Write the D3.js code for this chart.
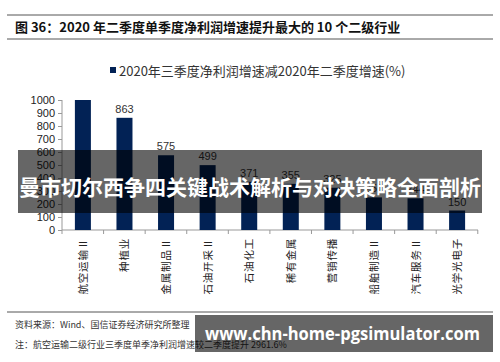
<!DOCTYPE html>
<html><head><meta charset="utf-8">
<script src="https://cdn.jsdelivr.net/npm/d3@7"></script>
<style>
html,body{margin:0;padding:0;background:#fff;}
svg{display:block;}
</style></head>
<body>
<svg id="c" width="500" height="362"></svg>
<script>
const categories = ["航空运输Ⅱ","种植业","金属制品Ⅱ","石油开采Ⅱ","石油化工","稀有金属","营销传播","船舶制造Ⅱ","汽车服务Ⅱ","光学光电子"];
const values = [2961.6, 863, 575, 499, 371, 355, 325, 251, 244, 150];
const yTicks = [0,100,200,300,400,500,600,700,800,900,1000];
const seriesName = "2020年三季度净利润增速减2020年二季度增速(%)";
const title = "图 36：2020 年二季度单季度净利润增速提升最大的 10 个二级行业";
const source = "资料来源：Wind、国信证券经济研究所整理";
const note = "注：航空运输二级行业三季度单季净利润增速较二季度提升 2961.6%";
const banner1 = "曼市切尔西争四关键战术解析与对决策略全面剖析";
const banner2 = "www.chn-home-pgsimulator.com";

const svg = d3.select("#c");
const cjk = "'Noto Sans CJK SC', 'Liberation Sans', sans-serif";
const num = "'Liberation Sans', Arial, sans-serif";
const barColor = "#022255";
const yMax = 1000;

// title block
svg.append("line").attr("x1",7).attr("x2",493).attr("y1",15).attr("y2",15).attr("stroke","#555").attr("stroke-width",1);
svg.append("line").attr("x1",7).attr("x2",493).attr("y1",39).attr("y2",39).attr("stroke","#555").attr("stroke-width",1);
svg.append("text").attr("x",15).attr("y",32).attr("font-family",cjk).attr("font-weight","bold")
  .attr("font-size",13).attr("fill","#111").text(title);

// legend
const lg = svg.append("g");
lg.append("rect").attr("x",110).attr("y",67).attr("width",6).attr("height",6).attr("fill",barColor);
lg.append("text").attr("x",119).attr("y",76).attr("font-family",cjk).attr("font-size",13).attr("fill","#333").text(seriesName);

// scales
const x = d3.scaleBand().domain(categories).range([62,478]).paddingInner(0.615).paddingOuter(0.31);
const y = d3.scaleLinear().domain([0,yMax]).range([230,100]).clamp(true);

// y axis
const ya = svg.append("g").attr("transform","translate(62,0)")
  .call(d3.axisLeft(y).tickValues(yTicks).tickFormat(d3.format("d")).tickSize(4).tickPadding(3));
ya.select(".domain").attr("stroke","#999").attr("d","M0,100V230");
ya.selectAll(".tick line").attr("stroke","#999");
ya.selectAll(".tick text").attr("font-family",num).attr("font-size",11).attr("fill","#222");

// x axis
const xa = svg.append("g").attr("transform","translate(0,230)");
xa.append("line").attr("x1",62).attr("x2",478).attr("stroke","#999");
const bw = x.step();
d3.range(categories.length+1).forEach(i=>{
  const xx = 62 + i*bw;
  xa.append("line").attr("x1",xx).attr("x2",xx).attr("y1",0).attr("y2",4).attr("stroke","#999");
});
xa.selectAll("text.cat").data(categories).enter().append("text").attr("class","cat")
  .attr("transform",d=>`translate(${x(d)+x.bandwidth()/2+4},8) rotate(-90)`)
  .attr("text-anchor","end").attr("font-family",cjk).attr("font-size",10.5).attr("fill","#222")
  .attr("letter-spacing",0.8).text(d=>d);

const rows = categories.map((c,i)=>({c, v: values[i]}));

// bars
svg.selectAll("rect.bar").data(rows).enter().append("rect").attr("class","bar")
  .attr("x",d=>x(d.c)).attr("width",x.bandwidth())
  .attr("y",d=>y(d.v)).attr("height",d=>y(0)-y(d.v)).attr("fill",barColor);

// value labels (bars over the axis max carry no label)
svg.selectAll("text.val").data(rows.filter(d=>d.v<=yMax)).enter().append("text").attr("class","val")
  .attr("x",d=>x(d.c)+x.bandwidth()/2).attr("y",d=>y(d.v)-5)
  .attr("text-anchor","middle").attr("font-family",num).attr("font-size",11).attr("fill","#333")
  .text(d=>d.v);

// footer
svg.append("line").attr("x1",7).attr("x2",493).attr("y1",312).attr("y2",312).attr("stroke","#555");
svg.append("text").attr("x",15).attr("y",328).attr("font-family",cjk).attr("font-size",9).attr("fill","#333").text(source);
svg.append("text").attr("x",15).attr("y",348).attr("font-family",cjk).attr("font-size",9).attr("fill","#333").text(note);

// overlay banners
svg.append("rect").attr("x",18).attr("y",150).attr("width",464).attr("height",63).attr("fill","rgba(0,0,0,0.6)");
svg.append("text").attr("x",250).attr("y",195).attr("text-anchor","middle").attr("font-family",cjk)
  .attr("font-weight","bold").attr("font-size",21).attr("fill","#fff").text(banner1);
svg.append("rect").attr("x",195).attr("y",315).attr("width",298).attr("height",37).attr("fill","rgba(0,0,0,0.6)");
svg.append("text").attr("x",205).attr("y",340).attr("font-family","'Open Sans', 'DejaVu Sans', sans-serif")
  .attr("font-weight","bold").attr("font-size",17).attr("fill","#fff")
  .attr("textLength",275).attr("lengthAdjust","spacingAndGlyphs").text(banner2);
</script>
</body></html>
